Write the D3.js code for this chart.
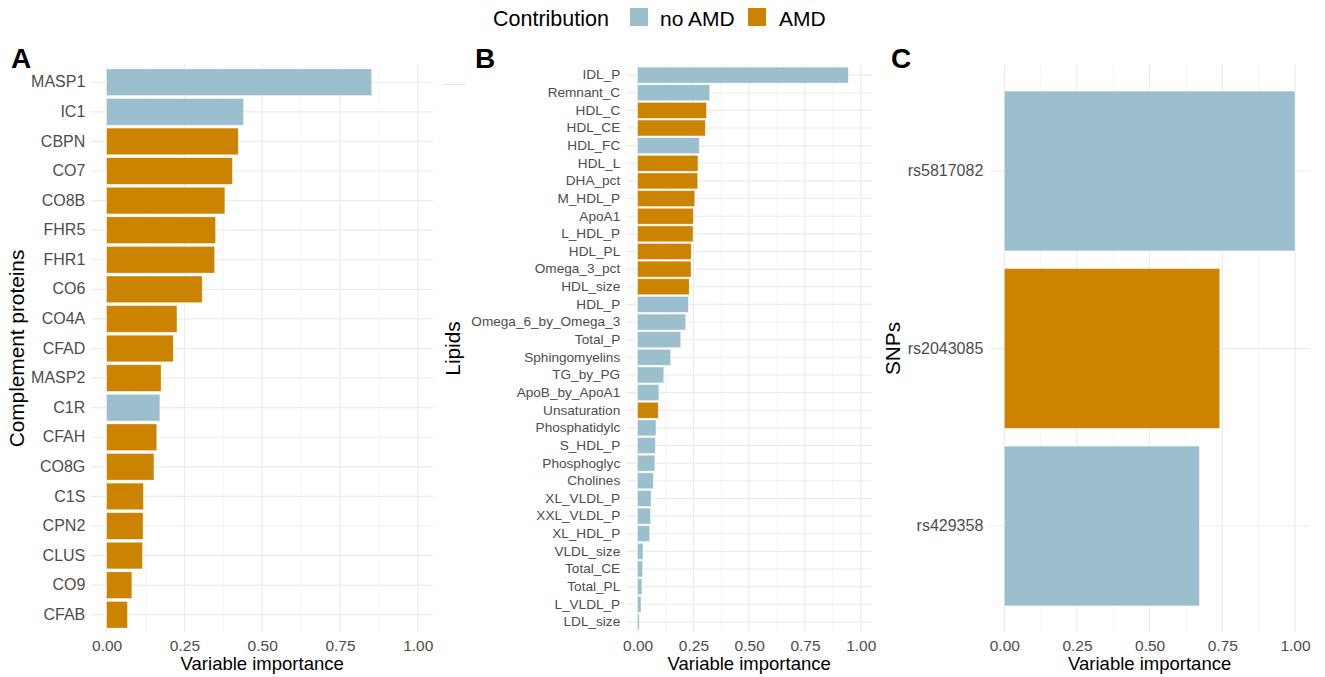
<!DOCTYPE html>
<html>
<head>
<meta charset="utf-8">
<script src="https://cdn.jsdelivr.net/npm/d3@7/dist/d3.min.js"></script>
<style>
  html, body { margin: 0; padding: 0; background: #ffffff; }
  svg { display: block; font-family: "Liberation Sans", Arial, Helvetica, sans-serif; }
</style>
</head>
<body>
<svg id="chart" width="1325" height="677"></svg>
<script>
// ---------------- DATA ----------------
const proteinNames = ["MASP1","IC1","CBPN","CO7","CO8B","FHR5","FHR1","CO6","CO4A","CFAD",
  "MASP2","C1R","CFAH","CO8G","C1S","CPN2","CLUS","CO9","CFAB"];
const proteinValues = [0.852,0.440,0.423,0.404,0.380,0.350,0.347,0.307,0.226,0.214,
  0.175,0.171,0.161,0.152,0.118,0.117,0.115,0.081,0.067];
const proteinContribution = ["no AMD","no AMD","AMD","AMD","AMD","AMD","AMD","AMD","AMD","AMD",
  "AMD","no AMD","AMD","AMD","AMD","AMD","AMD","AMD","AMD"];

const lipidNames = ["IDL_P","Remnant_C","HDL_C","HDL_CE","HDL_FC","HDL_L","DHA_pct","M_HDL_P",
  "ApoA1","L_HDL_P","HDL_PL","Omega_3_pct","HDL_size","HDL_P","Omega_6_by_Omega_3","Total_P",
  "Sphingomyelins","TG_by_PG","ApoB_by_ApoA1","Unsaturation","Phosphatidylc","S_HDL_P",
  "Phosphoglyc","Cholines","XL_VLDL_P","XXL_VLDL_P","XL_HDL_P","VLDL_size","Total_CE",
  "Total_PL","L_VLDL_P","LDL_size"];
const lipidValues = [0.944,0.323,0.308,0.303,0.276,0.270,0.269,0.256,
  0.249,0.248,0.240,0.239,0.231,0.227,0.215,0.193,
  0.148,0.117,0.095,0.092,0.082,0.079,
  0.077,0.070,0.060,0.057,0.054,0.024,0.022,
  0.019,0.015,0.007];
const lipidContribution = ["no AMD","no AMD","AMD","AMD","no AMD","AMD","AMD","AMD",
  "AMD","AMD","AMD","AMD","AMD","no AMD","no AMD","no AMD",
  "no AMD","no AMD","no AMD","AMD","no AMD","no AMD",
  "no AMD","no AMD","no AMD","no AMD","no AMD","no AMD","no AMD",
  "no AMD","no AMD","no AMD"];

const snpNames = ["rs5817082","rs2043085","rs429358"];
const snpValues = [1.000,0.741,0.671];
const snpContribution = ["no AMD","AMD","no AMD"];

const xTicks = [0, 0.25, 0.5, 0.75, 1.0];
const xMinorTicks = [0.125, 0.375, 0.625, 0.875];
const legendKeys = ["no AMD","AMD"];

// ---------------- STYLE ----------------
const colour = d3.scaleOrdinal().domain(legendKeys).range(["#9BBFCD","#CC8400"]);
const svg = d3.select("#chart");
const TOP = 64.5, BOTTOM = 632.5;

function panel(cfg) {
  const data = cfg.names.map((n, i) => ({name: n, value: cfg.values[i], contrib: cfg.contrib[i]}));
  const x = d3.scaleLinear().domain([-0.05, 1.05]).range([cfg.left, cfg.right]);
  const y = d3.scaleBand().domain(cfg.names).range([TOP, BOTTOM])
      .paddingInner(0.1).paddingOuter(0.15).align(0.5);
  const g = svg.append("g");

  // minor vertical grid
  g.append("g").selectAll("line").data(xMinorTicks).join("line")
    .attr("x1", d => x(d)).attr("x2", d => x(d))
    .attr("y1", TOP).attr("y2", BOTTOM)
    .attr("stroke", "#F2F2F2").attr("stroke-width", 0.8);
  // major vertical grid
  g.append("g").selectAll("line").data(xTicks).join("line")
    .attr("x1", d => x(d)).attr("x2", d => x(d))
    .attr("y1", TOP).attr("y2", BOTTOM)
    .attr("stroke", "#EBEBEB").attr("stroke-width", 1.1);
  // horizontal grid
  g.append("g").selectAll("line").data(cfg.names).join("line")
    .attr("x1", cfg.left).attr("x2", cfg.right)
    .attr("y1", d => y(d) + y.bandwidth() / 2).attr("y2", d => y(d) + y.bandwidth() / 2)
    .attr("stroke", "#EBEBEB").attr("stroke-width", 1.1);

  // bars
  g.append("g").selectAll("rect").data(data).join("rect")
    .attr("x", x(0)).attr("y", d => y(d.name))
    .attr("width", d => x(d.value) - x(0))
    .attr("height", y.bandwidth())
    .attr("fill", d => colour(d.contrib))
    .attr("stroke", "#ffffff").attr("stroke-opacity", 0.6).attr("stroke-width", 0.6);

  // y axis labels
  const yAxis = d3.axisLeft(y).tickSize(0).tickPadding(0);
  const ya = g.append("g").attr("transform", `translate(${cfg.left - cfg.labelGap},0)`).call(yAxis);
  ya.select(".domain").remove();
  ya.selectAll("text").attr("fill", "#4D4D4D")
    .style("font-size", cfg.yFont + "px")
    .style("font-family", '"Liberation Sans", Arial, sans-serif');

  // x axis labels
  const xAxis = d3.axisBottom(x).tickValues(xTicks).tickFormat(d3.format(".2f")).tickSize(0).tickPadding(0);
  const xa = g.append("g").attr("transform", `translate(0,${BOTTOM})`).call(xAxis);
  xa.select(".domain").remove();
  xa.selectAll("text").attr("fill", "#4D4D4D").attr("dy", null).attr("y", 18.5)
    .style("font-size", "15.5px")
    .style("font-family", '"Liberation Sans", Arial, sans-serif');

  // x axis title
  g.append("text").attr("x", (cfg.left + cfg.right) / 2).attr("y", 670)
    .attr("text-anchor", "middle").attr("fill", "#000")
    .style("font-size", "18.5px").text("Variable importance");

  // y axis title
  g.append("text")
    .attr("transform", `translate(${cfg.yTitleX},${(TOP + BOTTOM) / 2}) rotate(-90)`)
    .attr("text-anchor", "middle").attr("fill", "#000")
    .style("font-size", "20.8px").text(cfg.yTitle);

  // panel tag
  g.append("text").attr("x", cfg.tagX).attr("y", 68)
    .attr("fill", "#000").style("font-size", "28px").style("font-weight", "bold")
    .text(cfg.tag);
}

panel({names: proteinNames, values: proteinValues, contrib: proteinContribution,
  left: 91.1, right: 433.3, labelGap: 5.8, yFont: 16, yTitle: "Complement proteins",
  yTitleX: 23.5, tag: "A", tagX: 11});
panel({names: lipidNames, values: lipidValues, contrib: lipidContribution,
  left: 626.5, right: 871.9, labelGap: 6.3, yFont: 13.6, yTitle: "Lipids",
  yTitleX: 459.5, tag: "B", tagX: 475});
panel({names: snpNames, values: snpValues, contrib: snpContribution,
  left: 989.8, right: 1309.5, labelGap: 6.5, yFont: 16, yTitle: "SNPs",
  yTitleX: 900, tag: "C", tagX: 891});

// stray grey dash visible in the source figure
svg.append("line").attr("x1", 443).attr("x2", 466).attr("y1", 84.5).attr("y2", 84.5)
  .attr("stroke", "#E6E6E6").attr("stroke-width", 1.1);

// ---------------- LEGEND ----------------
const lg = svg.append("g");
lg.append("text").attr("x", 493).attr("y", 25.5).attr("fill", "#000")
  .style("font-size", "21.5px").text("Contribution");
const legendPos = [{sx: 630, tx: 660}, {sx: 748, tx: 779}];
legendKeys.forEach((k, i) => {
  lg.append("rect").attr("x", legendPos[i].sx).attr("y", 8).attr("width", 18).attr("height", 18)
    .attr("fill", colour(k));
  lg.append("text").attr("x", legendPos[i].tx).attr("y", 25.5).attr("fill", "#000")
    .style("font-size", "21px").text(k);
});
</script>
</body>
</html>
